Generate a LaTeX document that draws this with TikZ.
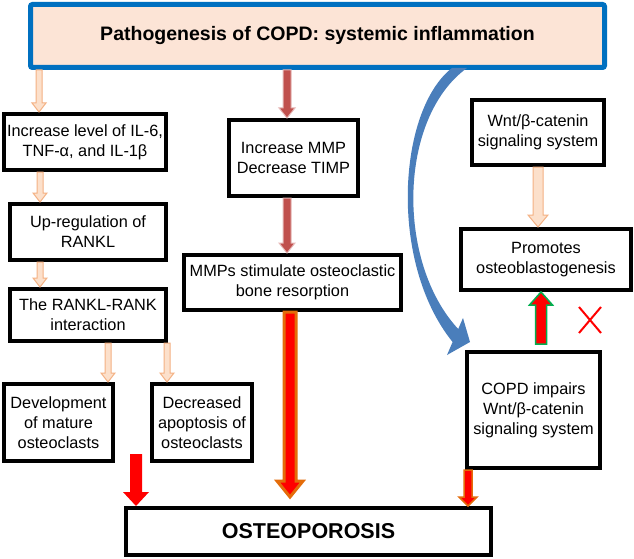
\documentclass[tikz,border=0pt]{standalone}
\usepackage{fontspec}
\setmainfont{Liberation Sans}
\usetikzlibrary{calc}

\definecolor{peachfill}{HTML}{FCE0CB}
\definecolor{peachline}{HTML}{F4B183}
\definecolor{titlefill}{HTML}{FCE4D6}
\definecolor{titleline}{HTML}{0070C0}
\definecolor{brickfill}{HTML}{C0504D}
\definecolor{brickline}{HTML}{E6B9B8}
\definecolor{arcblue}{HTML}{4A7EBB}
\definecolor{hotorange}{HTML}{E46C0A}
\definecolor{okgreen}{HTML}{00B050}

% vertical block arrow: style, x, from, to, shaft half width, head half width, head length
\newcommand{\varrow}[7]{%
  \coordinate (vx) at (#2,0);
  \coordinate (va) at (#3 -| vx);
  \coordinate (vb) at (#4 -| vx);
  \coordinate (vh) at ($(vb)!#7pt!(va)$);
  \filldraw[#1] ($(va)!#5pt!90:(vb)$) -- ($(vh)!#5pt!-90:(va)$) -- ($(vh)!#6pt!-90:(va)$) -- (vb)
    -- ($(vh)!#6pt!90:(va)$) -- ($(vh)!#5pt!90:(va)$) -- ($(va)!#5pt!-90:(vb)$) -- cycle;}

\begin{document}
\begin{tikzpicture}[x=1pt,y=-1pt,
  box/.style={draw,line width=4pt,align=center,inner sep=0pt,font=\fontsize{16.3}{20}\selectfont},
  peach/.style={fill=peachfill,draw=peachline,line width=1pt},
  brick/.style={fill=brickfill,draw=brickline,line width=1pt},
  bigred/.style={fill=red,draw=hotorange,line width=3pt},
  smallred/.style={fill=red,draw=hotorange,line width=1.5pt},
  plainred/.style={fill=red,draw=none},
  upred/.style={fill=red,draw=okgreen,line width=1.5pt}]
  \useasboundingbox (0,0) rectangle (634,559);

  % boxes
  \node[box,draw=titleline,fill=titlefill,line width=5pt,rounded corners=2pt,minimum width=574,minimum height=63,
    font=\bfseries\fontsize{19.5}{24}\selectfont] (top) at (317.5,36) {Pathogenesis of COPD: systemic inflammation};
  \node[box,minimum width=162,minimum height=56] (il) at (85,142) {Increase level of IL-6,\\TNF-α, and IL-1β};
  \node[box,minimum width=156,minimum height=56] (up) at (88,232) {Up-regulation of\\RANKL};
  \node[box,minimum width=156,minimum height=52] (rr) at (88,315) {The RANKL-RANK\\interaction};
  \node[box,minimum width=109,minimum height=77] (dev) at (58.5,422.5) {Development\\of mature\\osteoclasts};
  \node[box,minimum width=100,minimum height=77] (dec) at (202,422.5) {Decreased\\apoptosis of\\osteoclasts};
  \node[box,minimum width=129,minimum height=76] (mmp) at (293.5,158) {Increase MMP\\Decrease TIMP};
  \node[box,minimum width=217,minimum height=55] (stim) at (292.5,282.5) {MMPs stimulate osteoclastic\\bone resorption};
  \node[box,minimum width=132,minimum height=65] (wnt) at (538,132.5) {Wnt/β-catenin\\signaling system};
  \node[box,minimum width=170,minimum height=61] (prom) at (546,259.5) {Promotes\\osteoblastogenesis};
  \node[box,minimum width=133,minimum height=116] (imp) at (533.5,410) {COPD impairs\\Wnt/β-catenin\\signaling system};
  \node[box,minimum width=365,minimum height=47,font=\bfseries\fontsize{21.5}{24}\selectfont] (osteo) at (308.5,531.5) {OSTEOPOROSIS};

  % free ends
  \coordinate (lr) at (136,454);
  \coordinate (ctip) at ($(osteo.north)+(0,-9)$);
  \coordinate (gb) at ($(imp.north)+(0,-6)$);

  % arrows
  \foreach \x/\a/\b in {39/top.south/il.north,40/il.south/up.north,40/up.south/rr.north,
      108/rr.south/dev.north,167/rr.south/dec.north}
    {\varrow{peach}{\x}{\a}{\b}{3}{7}{9}}
  \varrow{peach}{538}{wnt.south}{prom.north}{5}{10}{12}
  \foreach \a/\b in {top.south/mmp.north,mmp.south/stim.north}
    {\varrow{brick}{287}{\a}{\b}{4}{8}{10}}
  \varrow{bigred}{290}{stim.south}{ctip}{6}{13}{16}
  \varrow{plainred}{136}{lr}{osteo.north}{6}{13}{14}
  \varrow{smallred}{468}{imp.south}{osteo.north}{4}{9}{9}
  \varrow{upred}{541}{gb}{prom.south}{5.5}{11.5}{13}

  % curved arrow from inflammation to Wnt impairment
  \fill[arcblue] (452,68) .. controls (398,110) and (388,262) .. (452.6,342) -- (447,355) -- (470,342)
    -- (463,318) -- (458.2,329) .. controls (396,262) and (398,118) .. (467,68) -- cycle;

  % blocked
  \draw[red,line width=2pt] (579,307) -- (601,333) (601,307) -- (579,333);
\end{tikzpicture}
\end{document}
